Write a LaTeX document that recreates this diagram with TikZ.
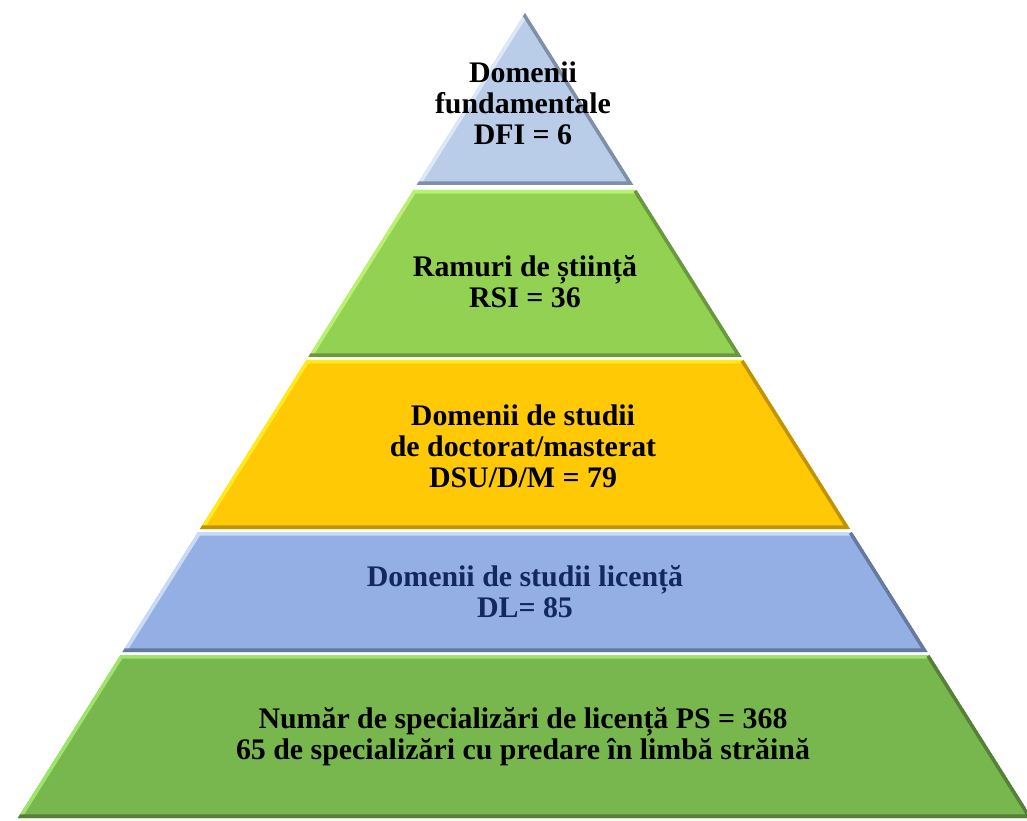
\documentclass[tikz,border=0pt]{standalone}
\usepackage{fontspec}
\setmainfont{Liberation Serif}
\definecolor{azulA}{HTML}{B9CDE8}
\definecolor{azulAl}{HTML}{DDE8F7}
\definecolor{azulAd}{HTML}{7F8FA8}
\definecolor{verdeA}{HTML}{93D152}
\definecolor{verdeAl}{HTML}{B8F070}
\definecolor{verdeAd}{HTML}{6A983E}
\definecolor{galben}{HTML}{FFCA05}
\definecolor{galbenl}{HTML}{FFEA1C}
\definecolor{galbend}{HTML}{C29300}
\definecolor{azulB}{HTML}{93AFE4}
\definecolor{azulBl}{HTML}{C8DAF8}
\definecolor{azulBd}{HTML}{66799F}
\definecolor{verdeB}{HTML}{78B74E}
\definecolor{verdeBl}{HTML}{9DE56A}
\definecolor{verdeBd}{HTML}{567F39}
\definecolor{bleumarin}{HTML}{12285E}

\begin{document}
\begin{tikzpicture}[x=0.03cm, y=-0.03cm,
  texto/.style={font=\bfseries\fontsize{25.5}{26.5}\selectfont, align=center}]
  \useasboundingbox (0,0) rectangle (1027,821);
  \clip (0,0) rectangle (1027,821);

  % Capas
  \foreach \t/\b/\c in {13/185/azulA, 190/357/verdeA, 360/529/galben, 532/652/azulB, 655/818/verdeB} {
    \pgfmathsetmacro\wt{0.63*(\t-13)}
    \pgfmathsetmacro\wb{0.63*(\b-13)}
    \begin{scope}
      \clip (525-\wt,\t) -- (525+\wt,\t) -- (525+\wb,\b) -- (525-\wb,\b) -- cycle;
      \fill[\c] (525-\wt,\t) -- (525+\wt,\t) -- (525+\wb,\b) -- (525-\wb,\b) -- cycle;
      \draw[line width=6pt, \c l] (525-\wb,\b) -- (525-\wt,\t) -- (525+\wt,\t);
      \draw[line width=6pt, \c d] (525+\wt,\t) -- (525+\wb,\b) -- (525-\wb,\b);
    \end{scope}
  }

  % Textos
  \node[texto] (dfi) at (523,103) {Domenii\\fundamentale\\DFI = 6};
  \node[texto] (rsi) at (525,282) {Ramuri de știință\\RSI = 36};
  \node[texto] (dsu) at (523,446) {Domenii de studii\\de doctorat/masterat\\DSU/D/M = 79};
  \node[texto, text=bleumarin] (dl) at (525,592) {Domenii de studii licență\\DL= 85};
  \node[texto] (ps) at (523,737) {Număr de specializări de licență PS = 368\\65 de specializări cu predare în limbă străină};
\end{tikzpicture}
\end{document}
